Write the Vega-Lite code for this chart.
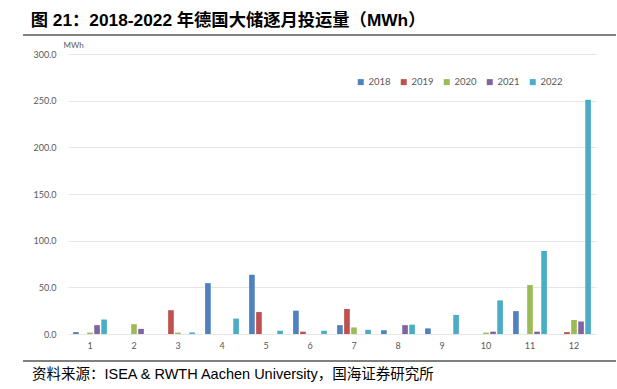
{
  "$schema": "https://vega.github.io/schema/vega-lite/v6.json",
  "background": "white",
  "padding": {"left": 20, "right": 3, "top": 11, "bottom": 1},
  "title": {"text": "图 21：2018-2022 年德国大储逐月投运量（MWh）", "anchor": "start", "font": "Liberation Sans, Noto Sans CJK SC", "fontSize": 17.3, "fontWeight": "bold", "color": "#000000", "dx": 10, "offset": 5},
  "spacing": 5,
  "vconcat": [
    {
      "width": 593, "height": 1,
      "data": {"values": [{"k": 1}]},
      "mark": {"type": "rule", "color": "#808080", "strokeWidth": 2},
      "encoding": {
        "x": {"datum": 0, "type": "quantitative", "scale": {"domain": [0, 1], "nice": false, "zero": false}, "axis": null},
        "x2": {"datum": 1},
        "y": {"datum": 1, "type": "quantitative", "scale": {"domain": [0, 1], "nice": false, "zero": false}, "axis": null}
      },
      "view": {"stroke": null}
    },
    {
      "spacing": 5,
      "hconcat": [
        {
          "width": 1, "height": 1,
          "data": {"values": [{"k": 1}]},
          "mark": {"type": "point", "opacity": 0},
          "encoding": {},
          "view": {"stroke": null}
        },
        {
          "width": 528, "height": 280,
          "view": {"stroke": null},
          "data": {"values": [
            {"month": 1, "year": "2018", "value": 2}, {"month": 1, "year": "2019", "value": 0}, {"month": 1, "year": "2020", "value": 1.5}, {"month": 1, "year": "2021", "value": 9.5}, {"month": 1, "year": "2022", "value": 15.5},
            {"month": 2, "year": "2018", "value": 0}, {"month": 2, "year": "2019", "value": 0}, {"month": 2, "year": "2020", "value": 10.5}, {"month": 2, "year": "2021", "value": 5.5}, {"month": 2, "year": "2022", "value": 0},
            {"month": 3, "year": "2018", "value": 0}, {"month": 3, "year": "2019", "value": 25.5}, {"month": 3, "year": "2020", "value": 1.5}, {"month": 3, "year": "2021", "value": 0}, {"month": 3, "year": "2022", "value": 1.5},
            {"month": 4, "year": "2018", "value": 54.5}, {"month": 4, "year": "2019", "value": 0}, {"month": 4, "year": "2020", "value": 0}, {"month": 4, "year": "2021", "value": 0}, {"month": 4, "year": "2022", "value": 16.5},
            {"month": 5, "year": "2018", "value": 63.5}, {"month": 5, "year": "2019", "value": 23.5}, {"month": 5, "year": "2020", "value": 0}, {"month": 5, "year": "2021", "value": 0}, {"month": 5, "year": "2022", "value": 3.5},
            {"month": 6, "year": "2018", "value": 25}, {"month": 6, "year": "2019", "value": 2.5}, {"month": 6, "year": "2020", "value": 0}, {"month": 6, "year": "2021", "value": 0}, {"month": 6, "year": "2022", "value": 3.5},
            {"month": 7, "year": "2018", "value": 9.5}, {"month": 7, "year": "2019", "value": 26.8}, {"month": 7, "year": "2020", "value": 7}, {"month": 7, "year": "2021", "value": 0}, {"month": 7, "year": "2022", "value": 4.5},
            {"month": 8, "year": "2018", "value": 4}, {"month": 8, "year": "2019", "value": 0}, {"month": 8, "year": "2020", "value": 0}, {"month": 8, "year": "2021", "value": 9.5}, {"month": 8, "year": "2022", "value": 10},
            {"month": 9, "year": "2018", "value": 6}, {"month": 9, "year": "2019", "value": 0}, {"month": 9, "year": "2020", "value": 0}, {"month": 9, "year": "2021", "value": 0}, {"month": 9, "year": "2022", "value": 20.5},
            {"month": 10, "year": "2018", "value": 0}, {"month": 10, "year": "2019", "value": 0}, {"month": 10, "year": "2020", "value": 1.5}, {"month": 10, "year": "2021", "value": 2.5}, {"month": 10, "year": "2022", "value": 36},
            {"month": 11, "year": "2018", "value": 24.5}, {"month": 11, "year": "2019", "value": 0}, {"month": 11, "year": "2020", "value": 52.5}, {"month": 11, "year": "2021", "value": 2.5}, {"month": 11, "year": "2022", "value": 89},
            {"month": 12, "year": "2018", "value": 0}, {"month": 12, "year": "2019", "value": 2}, {"month": 12, "year": "2020", "value": 15}, {"month": 12, "year": "2021", "value": 13.5}, {"month": 12, "year": "2022", "value": 251}
          ]},
          "mark": {"type": "bar"},
          "encoding": {
            "x": {"field": "month", "type": "ordinal", "scale": {"paddingInner": 0.2, "paddingOuter": 0.1},
                  "axis": {"title": null, "labelAngle": 0, "domain": false, "ticks": false, "labelPadding": 7, "labelFont": "Lato", "labelFontSize": 9, "labelColor": "#595959", "grid": false}},
            "xOffset": {"field": "year", "type": "nominal", "scale": {"paddingInner": 0.2, "paddingOuter": 0.1}},
            "y": {"field": "value", "type": "quantitative", "scale": {"domain": [0, 300]},
                  "axis": {"values": [0, 50, 100, 150, 200, 250, 300], "format": ".1f", "title": "MWh", "titleAngle": 0, "titleX": -5, "titleY": -5, "titleAlign": "left", "titleBaseline": "bottom", "titleFont": "Lato", "titleFontSize": 8, "titleFontWeight": "normal", "titleColor": "#595959", "domain": false, "ticks": false, "labelPadding": 12, "gridColor": "#e6e6e6", "labelFont": "Lato", "labelFontSize": 9, "labelColor": "#595959"}},
            "color": {"field": "year", "type": "nominal",
                      "scale": {"domain": ["2018", "2019", "2020", "2021", "2022"], "range": ["#4F81BD", "#C0504D", "#9BBB59", "#8064A2", "#4BACC6"]},
                      "legend": {"title": null, "orient": "none", "direction": "horizontal", "legendX": 333, "legendY": 42, "symbolType": "square", "symbolSize": 36, "symbolStrokeWidth": 0, "labelFont": "Lato", "labelFontSize": 9.5, "labelColor": "#595959", "columnPadding": 8, "labelOffset": 3}}
          }
        }
      ]
    },
    {
      "width": 593, "height": 6,
      "data": {"values": [{"k": 1}]},
      "mark": {"type": "rule", "color": "#808080", "strokeWidth": 2},
      "encoding": {
        "x": {"datum": 0, "type": "quantitative", "scale": {"domain": [0, 1], "nice": false, "zero": false}, "axis": null},
        "x2": {"datum": 1},
        "y": {"datum": 0, "type": "quantitative", "scale": {"domain": [0, 1], "nice": false, "zero": false}, "axis": null}
      },
      "view": {"stroke": null},
      "title": {"text": "资料来源：ISEA & RWTH Aachen University，国海证券研究所", "orient": "bottom", "anchor": "start", "font": "Liberation Sans, Noto Sans CJK SC", "fontSize": 14.5, "fontWeight": "normal", "color": "#000000", "dx": 10, "offset": 6}
    }
  ]
}
